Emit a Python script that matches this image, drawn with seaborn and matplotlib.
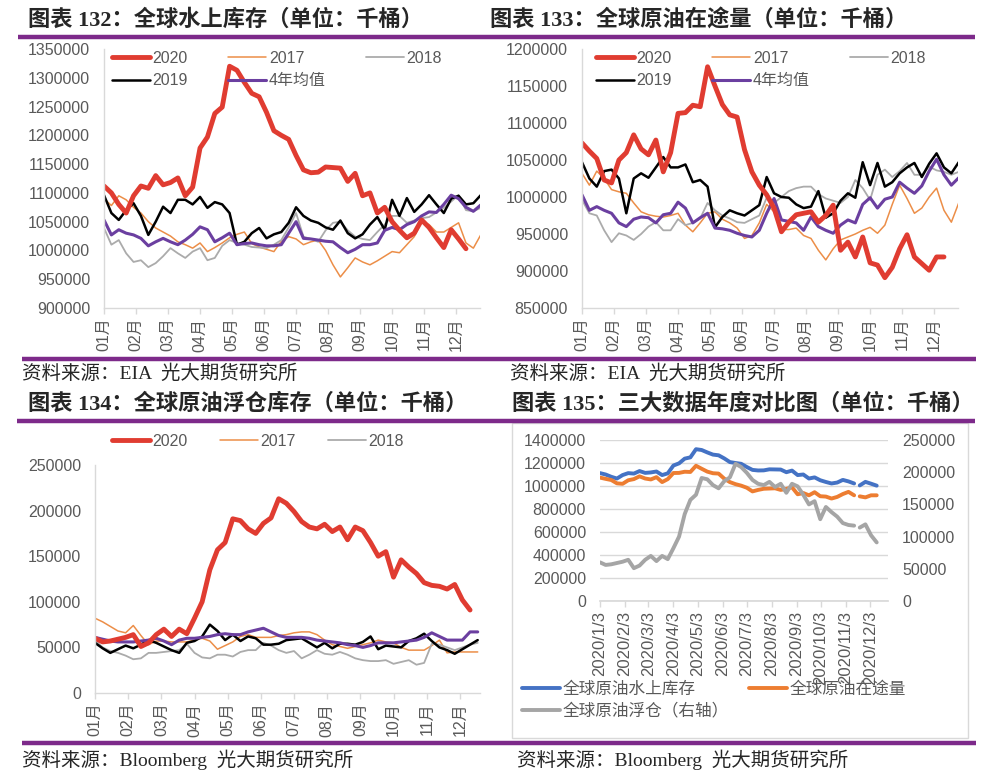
import numpy as np
import pandas as pd
import matplotlib.pyplot as plt
import matplotlib.ticker as mticker
from matplotlib.lines import Line2D
from matplotlib.patches import Rectangle
import seaborn as sns

sns.set_theme(style='white')
plt.rcParams['font.family'] = ['Liberation Sans', 'Noto Sans CJK SC']
plt.rcParams['axes.unicode_minus'] = False

##-> Data (weekly values, 千桶)
months = ['01月', '02月', '03月', '04月', '05月', '06月', '07月', '08月', '09月', '10月', '11月', '12月']
date_ticks = ['2020/1/3', '2020/2/3', '2020/3/3', '2020/4/3', '2020/5/3', '2020/6/3',
              '2020/7/3', '2020/8/3', '2020/9/3', '2020/10/3', '2020/11/3', '2020/12/3']

# 图表 132 全球水上库存
water_2020 = [1112000, 1100000, 1080000, 1065000, 1095000, 1112000, 1108000, 1130000, 1114000, 1118000,
              1126000, 1095000, 1110000, 1178000, 1197000, 1238000, 1249000, 1320000, 1313000, 1292000,
              1273000, 1267000, 1240000, 1208000, 1200000, 1193000, 1165000, 1140000, 1135000, 1136000,
              1145000, 1144000, 1143000, 1120000, 1134000, 1095000, 1100000, 1065000, 1075000, 1050000,
              1035000, 1022000, 1030000, 1053000, 1040000, 1022000, 1005000, 1036000, 1020000, 1003000]
water_2017 = [1090000, 1078000, 1095000, 1088000, 1075000, 1065000, 1050000, 1039000, 1032000, 1025000,
              1015000, 1010000, 1004000, 1013000, 998000, 1005000, 1013000, 1022000, 1028000, 1032000,
              1012000, 1006000, 1002000, 998000, 1016000, 1024000, 1020000, 1010000, 1015000, 1018000,
              1000000, 975000, 954000, 970000, 987000, 980000, 975000, 982000, 990000, 998000,
              996000, 1010000, 1024000, 1050000, 1045000, 1032000, 1032000, 1040000, 1048000, 1013000,
              1004000, 1027000]
water_2018 = [1039000, 1010000, 1018000, 995000, 980000, 983000, 971000, 978000, 990000, 1004000,
              995000, 987000, 998000, 1004000, 983000, 987000, 1008000, 1018000, 1013000, 1010000,
              1006000, 1005000, 1004000, 1010000, 1018000, 1040000, 1065000, 1024000, 1020000, 1015000,
              1035000, 1048000, 1050000, 1035000, 1024000, 1020000, 1018000, 1032000, 1045000, 1060000,
              1060000, 1048000, 1052000, 1056000, 1058000, 1066000, 1074000, 1085000, 1096000, 1070000,
              1068000, 1074000]
water_2019 = [1096000, 1065000, 1053000, 1070000, 1082000, 1060000, 1027000, 1050000, 1076000, 1065000,
              1088000, 1088000, 1080000, 1093000, 1074000, 1084000, 1080000, 1065000, 1010000, 1015000,
              1030000, 1039000, 1021000, 1028000, 1032000, 1048000, 1075000, 1060000, 1052000, 1048000,
              1040000, 1036000, 1052000, 1030000, 1021000, 1028000, 1045000, 1058000, 1036000, 1088000,
              1060000, 1091000, 1067000, 1080000, 1096000, 1080000, 1065000, 1090000, 1095000, 1080000,
              1082000, 1096000]
water_avg = [1053000, 1027000, 1036000, 1030000, 1027000, 1021000, 1008000, 1015000, 1021000, 1015000,
             1010000, 1018000, 1028000, 1041000, 1036000, 1015000, 1022000, 1030000, 1010000, 1012000,
             1013000, 1010000, 1008000, 1008000, 1010000, 1030000, 1050000, 1021000, 1020000, 1018000,
             1016000, 1015000, 1005000, 996000, 1002000, 1010000, 1010000, 1013000, 1035000, 1040000,
             1036000, 1045000, 1050000, 1060000, 1067000, 1066000, 1080000, 1096000, 1090000, 1075000,
             1068000, 1079000]

# 图表 133 全球原油在途量
transit_2020 = [1073000, 1062000, 1052000, 1023000, 1019000, 1050000, 1060000, 1084000, 1065000, 1057000,
                1077000, 1034000, 1060000, 1113000, 1114000, 1124000, 1122000, 1176000, 1150000, 1125000,
                1111000, 1108000, 1064000, 1034000, 1016000, 1003000, 985000, 953000, 966000, 976000,
                978000, 980000, 966000, 975000, 989000, 928000, 939000, 919000, 946000, 911000,
                908000, 891000, 905000, 930000, 949000, 919000, 910000, 901000, 919000, 919000]
transit_2017 = [1032000, 1016000, 1035000, 1025000, 1010000, 1007000, 1005000, 992000, 980000, 976000,
                974000, 973000, 975000, 978000, 962000, 953000, 965000, 978000, 980000, 970000,
                965000, 958000, 944000, 948000, 965000, 990000, 980000, 956000, 956000, 958000,
                948000, 944000, 928000, 915000, 930000, 942000, 946000, 950000, 955000, 959000,
                951000, 962000, 990000, 1016000, 998000, 978000, 985000, 1000000, 1012000, 982000,
                966000, 992000]
transit_2018 = [996000, 978000, 975000, 955000, 939000, 951000, 948000, 942000, 950000, 960000,
                966000, 955000, 955000, 970000, 962000, 965000, 971000, 992000, 982000, 975000,
                971000, 966000, 965000, 970000, 975000, 999000, 992000, 1000000, 1008000, 1012000,
                1014000, 1014000, 1004000, 998000, 995000, 992000, 1000000, 1023000, 1012000, 996000,
                1030000, 1037000, 1027000, 1035000, 1046000, 1030000, 1030000, 1041000, 1036000, 1034000,
                1030000, 1034000]
transit_2019 = [1047000, 1025000, 1014000, 1035000, 1037000, 1025000, 978000, 1025000, 1032000, 1026000,
                1040000, 1054000, 1040000, 1040000, 1044000, 1020000, 1023000, 1014000, 959000, 973000,
                982000, 978000, 975000, 982000, 989000, 1027000, 1005000, 1000000, 999000, 990000,
                985000, 987000, 1008000, 972000, 978000, 995000, 1005000, 999000, 1047000, 1016000,
                1046000, 1014000, 1020000, 1032000, 1040000, 1046000, 1027000, 1045000, 1059000, 1040000,
                1032000, 1047000]
transit_avg = [1003000, 982000, 987000, 982000, 978000, 965000, 960000, 970000, 973000, 972000,
               965000, 976000, 978000, 993000, 985000, 965000, 972000, 978000, 958000, 957000,
               955000, 951000, 948000, 946000, 955000, 978000, 998000, 969000, 967000, 965000,
               955000, 973000, 960000, 955000, 951000, 962000, 969000, 965000, 990000, 999000,
               985000, 997000, 1000000, 1020000, 1012000, 1005000, 1015000, 1035000, 1051000, 1030000,
               1016000, 1026000]

# 图表 134 全球原油浮仓库存
floating_2020 = [60000, 56000, 57000, 59000, 61000, 64000, 51000, 55000, 64000, 70000,
                 62000, 70000, 65000, 82000, 100000, 135000, 157000, 165000, 191000, 189000,
                 180000, 175000, 186000, 192000, 213000, 208000, 199000, 188000, 182000, 180000,
                 185000, 177000, 182000, 168000, 182000, 178000, 165000, 150000, 155000, 127000,
                 146000, 138000, 131000, 121000, 118000, 117000, 114000, 119000, 102000, 91000]
floating_2017 = [82000, 78000, 73000, 68000, 66000, 74000, 63000, 53000, 57000, 57000,
                 56000, 56000, 56000, 58000, 60000, 57000, 48000, 52000, 56000, 62000,
                 64000, 61000, 61000, 61000, 63000, 64000, 66000, 67000, 67000, 64000,
                 58000, 53000, 51000, 49000, 51000, 53000, 55000, 58000, 56000, 55000,
                 50000, 47000, 47000, 47000, 52000, 58000, 44000, 45000, 45000, 45000,
                 45000]
floating_2018 = [58000, 50000, 46000, 44000, 41000, 37000, 38000, 44000, 44000, 45000,
                 46000, 47000, 54000, 44000, 39000, 38000, 42000, 42000, 40000, 45000,
                 47000, 47000, 55000, 52000, 47000, 44000, 46000, 38000, 42000, 47000,
                 43000, 42000, 45000, 42000, 38000, 36000, 35000, 35000, 36000, 32000,
                 34000, 36000, 31000, 33000, 54000, 53000, 50000, 47000, 50000, 53000,
                 55000]
floating_2019 = [55000, 49000, 44000, 48000, 52000, 49000, 53000, 58000, 55000, 51000,
                 47000, 44000, 55000, 57000, 62000, 75000, 68000, 58000, 64000, 57000,
                 62000, 60000, 53000, 53000, 54000, 58000, 59000, 60000, 55000, 50000,
                 55000, 49000, 54000, 54000, 53000, 56000, 62000, 48000, 52000, 51000,
                 50000, 57000, 60000, 65000, 57000, 50000, 47000, 43000, 48000, 53000,
                 58000]
floating_avg = [61000, 59000, 57000, 56000, 56000, 56000, 57000, 58000, 60000, 57000,
                53000, 58000, 60000, 60000, 61000, 62000, 64000, 65000, 64000, 64000,
                67000, 69000, 71000, 67000, 63000, 61000, 61000, 61000, 60000, 58000,
                57000, 56000, 55000, 53000, 52000, 50000, 52000, 55000, 55000, 55000,
                56000, 57000, 58000, 61000, 66000, 62000, 58000, 58000, 58000, 67000,
                67000]
missing_week = 46   # 图表135: line is broken before this week
# Data <-##

##-> Styles
W, H = 992, 783
PURPLE_BAR = '#7d2a8a'
TICK = '#595959'
AXIS = '#D9D9D9'
RED, ORANGE, GREY, BLACK, PURPLE = '#E03C31', '#EC8E48', '#ABABAB', '#000000', '#6B3FA0'
SERIF = ['Liberation Serif', 'Noto Sans CJK SC']


def px_box(left, top, right, bottom):
    # pixel box (from top-left) -> figure fraction
    return [left / W, 1 - bottom / H, (right - left) / W, (bottom - top) / H]


def hline(x0, x1, y):
    fig.add_artist(Line2D([x0 / W, x1 / W], [1 - y / H, 1 - y / H], transform=fig.transFigure,
                          color=PURPLE_BAR, lw=3.2, solid_capstyle='butt'))


def draw(ax, values, color, lw, label):
    df = pd.DataFrame({'week': np.arange(len(values)), 'value': values})
    sns.lineplot(data=df, x='week', y='value', ax=ax, color=color, linewidth=lw, label=label)


def style_axis(ax, ylo, yhi, xmax):
    ax.set_xlim(0, xmax)
    ax.set_ylim(ylo, yhi)
    ax.set_yticks(np.arange(ylo, yhi + 1, 50000))
    ax.yaxis.set_major_formatter(mticker.StrMethodFormatter('{x:.0f}'))
    ax.set_xticks(np.arange(12) * 52 / 12)
    ax.set_xticklabels(months, rotation=90)
    ax.tick_params(axis='y', left=False, length=0, pad=10, labelsize=11.5, labelcolor=TICK)
    ax.tick_params(axis='x', bottom=True, length=4, width=1, color=AXIS, pad=3,
                   labelsize=11.5, labelcolor=TICK, direction='out')
    for side in ['top', 'right']:
        ax.spines[side].set_visible(False)
    for side in ['left', 'bottom']:
        ax.spines[side].set_color(AXIS)
        ax.spines[side].set_linewidth(1)
    ax.set_xlabel('')
    ax.set_ylabel('')
    ax.grid(False)


def legend(ax, order, x, y, ncol, spacing):
    hs = dict(zip(*ax.get_legend_handles_labels()[::-1]))
    ax.legend([hs[k] for k in order], order, loc='upper left', bbox_to_anchor=(x / W, 1 - y / H),
              bbox_transform=fig.transFigure, ncol=ncol, frameon=False, fontsize=11.5,
              labelcolor=TICK, handlelength=2.4, handletextpad=0.15, columnspacing=spacing,
              labelspacing=0.45, borderpad=0, borderaxespad=0)


fig = plt.figure(figsize=(W / 100, H / 100), dpi=100)
fig.patch.set_facecolor('white')

##-> 图表 132
ax1 = fig.add_axes(px_box(104, 49, 480, 308))
draw(ax1, water_2017, ORANGE, 1.1, '2017')
draw(ax1, water_2018, GREY, 1.3, '2018')
draw(ax1, water_2019, BLACK, 1.8, '2019')
draw(ax1, water_avg, PURPLE, 2.2, '4年均值')
draw(ax1, water_2020, RED, 3.5, '2020')
style_axis(ax1, 900000, 1350000, 50.9)
legend(ax1, ['2020', '2019', '2017', '4年均值', '2018'], 112, 51, 3, 2.5)

##-> 图表 133
ax2 = fig.add_axes(px_box(582, 49, 958, 308))
draw(ax2, transit_2017, ORANGE, 1.1, '2017')
draw(ax2, transit_2018, GREY, 1.3, '2018')
draw(ax2, transit_2019, BLACK, 1.8, '2019')
draw(ax2, transit_avg, PURPLE, 2.2, '4年均值')
draw(ax2, transit_2020, RED, 3.5, '2020')
style_axis(ax2, 850000, 1200000, 50.9)
legend(ax2, ['2020', '2019', '2017', '4年均值', '2018'], 596, 51, 3, 2.5)

##-> 图表 134
ax3 = fig.add_axes(px_box(95, 465, 480, 693))
draw(ax3, floating_2017, ORANGE, 1.1, '2017')
draw(ax3, floating_2018, GREY, 1.3, '2018')
draw(ax3, floating_2019, BLACK, 1.8, '2019')
draw(ax3, floating_avg, PURPLE, 2.2, '4年均值')
draw(ax3, floating_2020, RED, 3.5, '2020')
style_axis(ax3, 0, 250000, 50.3)
legend(ax3, ['2020', '2017', '2018'], 112, 434, 3, 2.0)

##-> 图表 135 (2020 series of the three charts, floating on right axis)
ax4 = fig.add_axes(px_box(600, 440, 888, 601))
ax4r = ax4.twinx()
dates = pd.date_range('2020-01-03', periods=len(water_2020), freq='7D')
for vals, color, label, axis in [(water_2020, '#4472C4', '全球原油水上库存', ax4),
                                 (transit_2020, '#ED7D31', '全球原油在途量', ax4),
                                 (floating_2020, '#A5A5A5', '全球原油浮仓（右轴）', ax4r)]:
    df = pd.DataFrame({'date': dates, 'value': vals})
    sns.lineplot(data=df.iloc[:missing_week], x='date', y='value', ax=axis, color=color, linewidth=2.8, label=label)
    sns.lineplot(data=df.iloc[missing_week:], x='date', y='value', ax=axis, color=color, linewidth=2.8)
ax4.set_ylim(0, 1400000)
ax4.set_yticks(np.arange(0, 1400001, 200000))
ax4r.set_ylim(0, 250000)
ax4r.set_yticks(np.arange(0, 250001, 50000))
for a in [ax4, ax4r]:
    a.yaxis.set_major_formatter(mticker.StrMethodFormatter('{x:.0f}'))
    a.set_xlabel('')
    a.set_ylabel('')
    for side in a.spines:
        a.spines[side].set_visible(False)
ax4.spines['bottom'].set_visible(True)
ax4.spines['bottom'].set_color(AXIS)
ax4.yaxis.grid(True, color=AXIS, lw=1)
ax4.set_axisbelow(True)
ax4r.grid(False)
ax4.set_xlim(pd.Timestamp('2020-01-03'), pd.Timestamp('2020-12-25'))
ax4.set_xticks(pd.to_datetime([f'2020-{m:02d}-03' for m in range(1, 13)]))
ax4.set_xticklabels(date_ticks, rotation=90)
ax4.tick_params(axis='x', bottom=True, length=4, width=1, color=AXIS, pad=3, labelsize=12, labelcolor=TICK)
ax4.tick_params(axis='y', left=False, length=0, pad=10, labelsize=11.5, labelcolor=TICK)
ax4r.tick_params(axis='y', right=False, length=0, pad=10, labelsize=11.5, labelcolor=TICK)
if ax4.get_legend():
    ax4.get_legend().remove()
if ax4r.get_legend():
    ax4r.get_legend().remove()
h4, l4 = ax4.get_legend_handles_labels()
hr, lr = ax4r.get_legend_handles_labels()
fig.legend([h4[0], hr[0], h4[1]], [l4[0], lr[0], l4[1]], loc='upper left', bbox_to_anchor=(522 / W, 1 - 681 / H),
           ncol=2, frameon=False, fontsize=12, labelcolor=TICK, handlelength=2.3, handletextpad=0.15,
           columnspacing=1.2, labelspacing=0.35, borderpad=0, borderaxespad=0)
fig.add_artist(Rectangle((512 / W, 1 - 738 / H), (968 - 512) / W, (738 - 423) / H, transform=fig.transFigure,
                         fill=False, edgecolor=AXIS, lw=1))

##-> titles, purple rules and sources
title_kw = dict(fontsize=16, fontweight='bold', family=SERIF, va='center', ha='left')
fig.text(28 / W, 1 - 20 / H, '图表 132：全球水上库存（单位：千桶）', **title_kw)
fig.text(490 / W, 1 - 20 / H, '图表 133：全球原油在途量（单位：千桶）', **title_kw)
fig.text(28 / W, 1 - 404 / H, '图表 134：全球原油浮仓库存（单位：千桶）', **title_kw)
fig.text(512 / W, 1 - 404 / H, '图表 135：三大数据年度对比图（单位：千桶）', **title_kw)
src_kw = dict(fontsize=14, family=SERIF, va='center', ha='left')
fig.text(22 / W, 1 - 374 / H, '资料来源：EIA  光大期货研究所', **src_kw)
fig.text(510 / W, 1 - 374 / H, '资料来源：EIA  光大期货研究所', **src_kw)
fig.text(22 / W, 1 - 760 / H, '资料来源：Bloomberg  光大期货研究所', **src_kw)
fig.text(517 / W, 1 - 760 / H, '资料来源：Bloomberg  光大期货研究所', **src_kw)
hline(18, 975, 37)
hline(22, 976, 359)
hline(17, 975, 421)
hline(22, 976, 743)

fig.savefig('out.png', dpi=100)
